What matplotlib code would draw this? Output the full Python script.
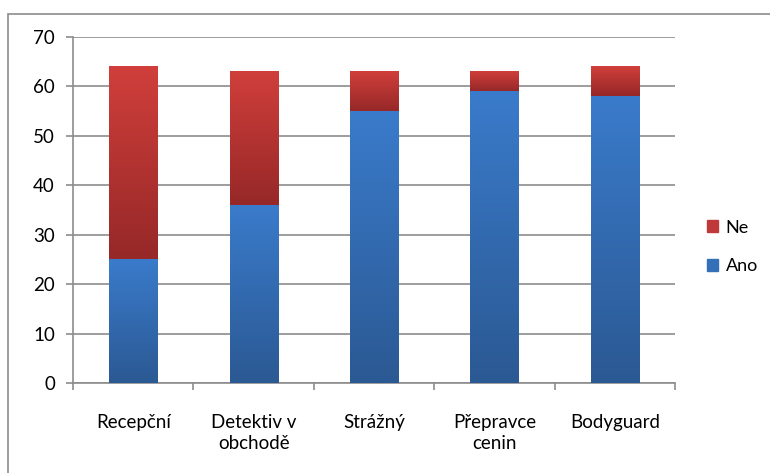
import numpy as np
import matplotlib.pyplot as plt
from matplotlib.patches import Rectangle
from matplotlib.colors import LinearSegmentedColormap

categories = ["Recepční", "Detektiv v\nobchodě", "Strážný", "Přepravce\ncenin", "Bodyguard"]
ano = [25, 36, 55, 59, 58]
ne = [39, 27, 8, 4, 6]

plt.rcParams['font.family'] = ['Lato', 'DejaVu Sans']

fig = plt.figure(figsize=(7.7, 4.73), dpi=100)
ax = fig.add_axes([73 / 770, 1 - 383 / 473, (675 - 73) / 770, (383 - 37) / 473])

# outer chart frame (like Excel chart area)
fig.patches.append(Rectangle((8 / 770, -0.1), 1.2, 1.1 - 14 / 473, transform=fig.transFigure,
                             fill=False, edgecolor="#8c8c8c", linewidth=1.2))

blue = LinearSegmentedColormap.from_list("b", ["#2b5993", "#3a7bcb"])
red = LinearSegmentedColormap.from_list("r", ["#962828", "#d03f3b"])
grad = np.linspace(0, 1, 256).reshape(-1, 1)

x = np.arange(len(categories))
w = 0.4
for i in x:
    ax.imshow(grad, cmap=blue, origin="lower", aspect="auto",
              extent=[i - w / 2, i + w / 2, 0, ano[i]], zorder=3)
    ax.imshow(grad, cmap=red, origin="lower", aspect="auto",
              extent=[i - w / 2, i + w / 2, ano[i], ano[i] + ne[i]], zorder=3)

ax.set_xlim(-0.5, len(categories) - 0.5)
ax.set_ylim(0, 70)
ax.set_yticks(range(0, 71, 10))
ax.yaxis.grid(True, color="#8c8c8c", linewidth=1.2)
ax.set_axisbelow(True)

ax.set_xticks(np.arange(-0.5, len(categories), 1))
ax.set_xticklabels([])
ax.set_xticks(x, minor=True)
ax.set_xticklabels(categories, minor=True, fontsize=13.5, linespacing=1.35)
ax.tick_params(axis="x", which="minor", length=0, pad=22)
ax.tick_params(axis="x", which="major", length=5, color="#8c8c8c", width=1.2)
ax.tick_params(axis="y", length=5, color="#8c8c8c", width=1.2, labelsize=13.5, pad=8)

for s in ["top", "right"]:
    ax.spines[s].set_visible(False)
for s in ["left", "bottom"]:
    ax.spines[s].set_color("#8c8c8c")
    ax.spines[s].set_linewidth(1.2)

handles = [Rectangle((0, 0), 1, 1, color="#c0393a"), Rectangle((0, 0), 1, 1, color="#3470b8")]
fig.legend(handles, ["Ne", "Ano"], loc="center left", bbox_to_anchor=(703 / 770, 1 - 247 / 473),
           frameon=False, fontsize=13, handlelength=0.65, handleheight=0.65,
           labelspacing=1.25, handletextpad=0.4, borderpad=0.2, borderaxespad=0)

fig.savefig("out.png", dpi=100)
